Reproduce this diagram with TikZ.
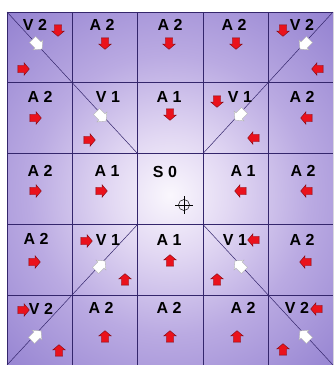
\documentclass[tikz,border=0pt]{standalone}
\usepackage{fontspec}
\setmainfont{Liberation Sans}
\usetikzlibrary{shapes.arrows}

\definecolor{gridline}{RGB}{52,38,108}
\definecolor{arrowred}{RGB}{234,18,28}
\definecolor{arrowedge}{RGB}{130,10,20}
\definecolor{glow0}{RGB}{250,247,253}
\definecolor{glow1}{RGB}{226,216,243}
\definecolor{glow2}{RGB}{186,170,226}
\definecolor{glow3}{RGB}{146,128,208}
\definecolor{glow4}{RGB}{124,106,196}
\definecolor{glow5}{RGB}{106,88,182}
\pgfdeclareradialshading{glow}{\pgfpoint{0bp}{0bp}}{%
  color(0bp)=(glow0); color(6bp)=(glow1); color(14bp)=(glow2);
  color(25bp)=(glow3); color(35bp)=(glow4); color(50bp)=(glow5)}

\begin{document}
\begin{tikzpicture}[x=1pt, y=-1pt,
    lbl/.style={font=\fontsize{16}{18}\selectfont\bfseries, inner sep=0pt},
    redarrow/.style={single arrow, draw=arrowedge, fill=arrowred, line width=0.4pt,
      inner sep=3.5pt, minimum width=12.5pt, minimum height=11.5pt,
      single arrow head extend=2.5pt, single arrow tip angle=100},
    whitearrow/.style={redarrow, draw=gray!60, fill=white, inner sep=4pt,
      minimum width=14pt, minimum height=13.5pt}]
    \useasboundingbox (0,0) rectangle (333,365);

    % Background
    \begin{scope}
        \clip (7,12) rectangle (333,365);
        \fill[shading=glow] (-80,-55) rectangle (420,445);
    \end{scope}

    % Grid
    \foreach \i in {1,...,4} {
        \draw[gridline, line width=0.7pt] (7+65.3*\i,12) -- (7+65.3*\i,365);
        \draw[gridline, line width=0.7pt] (7,12+70.8*\i) -- (333,12+70.8*\i);
    }
    \draw[gridline, line width=0.5pt] (333,12) -- (7,12) -- (7,365);

    % Diagonals
    \coordinate (nw) at (7,12);
    \coordinate (ne) at (333,12);
    \coordinate (sw) at (7,365);
    \coordinate (se) at (333,365);
    \coordinate (cnw) at (137.6,153.6);
    \coordinate (cne) at (202.9,153.6);
    \coordinate (csw) at (137.6,224.4);
    \coordinate (cse) at (202.9,224.4);
    \draw[gridline, line width=0.5pt] (nw) -- (cnw);
    \draw[gridline, line width=0.5pt] (ne) -- (cne);
    \draw[gridline, line width=0.5pt] (sw) -- (csw);
    \draw[gridline, line width=0.5pt] (se) -- (cse);

    % Labels
    \node[lbl] (v2nw) at (35,25) {V 2};
    \node[lbl] (a2n1) at (102,25) {A 2};
    \node[lbl] (a2n2) at (170,25) {A 2};
    \node[lbl] (a2n3) at (234,25) {A 2};
    \node[lbl] (v2ne) at (302,25) {V 2};
    \node[lbl] (a2w1) at (40,97) {A 2};
    \node[lbl] (v1nw) at (108,97) {V 1};
    \node[lbl] (a1n) at (169,97) {A 1};
    \node[lbl] (v1ne) at (240,97) {V 1};
    \node[lbl] (a2e1) at (302,97) {A 2};
    \node[lbl] (a2w2) at (40,171) {A 2};
    \node[lbl] (a1w) at (107,171) {A 1};
    \node[lbl] (s0) at (165,172) {S 0};
    \node[lbl] (a1e) at (243,171) {A 1};
    \node[lbl] (a2e2) at (303,171) {A 2};
    \node[lbl] (a2w3) at (36,239) {A 2};
    \node[lbl] (v1sw) at (108,240) {V 1};
    \node[lbl] (a1s) at (169,240) {A 1};
    \node[lbl] (v1se) at (235,240) {V 1};
    \node[lbl] (a2e3) at (302,240) {A 2};
    \node[lbl] (v2sw) at (41,309) {V 2};
    \node[lbl] (a2s1) at (101,308) {A 2};
    \node[lbl] (a2s2) at (169,308) {A 2};
    \node[lbl] (a2s3) at (243,308) {A 2};
    \node[lbl] (v2se) at (297,308) {V 2};

    % Red arrows
    \node[redarrow, rotate=-90] (rnw1) at (58,29) {};
    \node[redarrow] (rnw2) at (22,69) {};
    \node[redarrow, rotate=-90] (rn1) at (105,42) {};
    \node[redarrow, rotate=-90] (rn2) at (169,42) {};
    \node[redarrow, rotate=-90] (rn3) at (236,42) {};
    \node[redarrow, rotate=-90] (rne1) at (283,29) {};
    \node[redarrow, rotate=180] (rne2) at (319,69) {};
    \node[redarrow] (rw1) at (34,118) {};
    \node[redarrow] (rv1nw) at (88,140) {};
    \node[redarrow, rotate=-90] (ra1n) at (170,113) {};
    \node[redarrow, rotate=-90] (rv1ne) at (217,100) {};
    \node[redarrow, rotate=180] (rv1ne2) at (255,138) {};
    \node[redarrow, rotate=180] (re1) at (308,118) {};
    \node[redarrow] (rw2) at (34,191) {};
    \node[redarrow] (ra1w) at (100,191) {};
    \node[redarrow, rotate=180] (ra1e) at (242,191) {};
    \node[redarrow, rotate=180] (re2) at (308,191) {};
    \node[redarrow] (rw3) at (33,262) {};
    \node[redarrow] (rv1sw) at (85,241) {};
    \node[redarrow, rotate=90] (rv1sw2) at (125,281) {};
    \node[redarrow, rotate=90] (ra1s) at (170,262) {};
    \node[redarrow, rotate=180] (rv1se) at (255,240) {};
    \node[redarrow, rotate=90] (rv1se2) at (217,281) {};
    \node[redarrow, rotate=180] (re3) at (307,262) {};
    \node[redarrow] (rsw1) at (22,310) {};
    \node[redarrow, rotate=90] (rsw2) at (59,352) {};
    \node[redarrow, rotate=90] (rs1) at (105,338) {};
    \node[redarrow, rotate=90] (rs2) at (170,338) {};
    \node[redarrow, rotate=90] (rs3) at (237,338) {};
    \node[redarrow, rotate=180] (rse1) at (318,309) {};
    \node[redarrow, rotate=90] (rse2) at (283,351) {};

    % White arrows
    \node[whitearrow, rotate=-45] (wnw) at (36,43) {};
    \node[whitearrow, rotate=-135] (wne) at (306,43) {};
    \node[whitearrow, rotate=-45] (wv1nw) at (100,115) {};
    \node[whitearrow, rotate=-135] (wv1ne) at (241,114) {};
    \node[whitearrow, rotate=45] (wv1sw) at (99,267) {};
    \node[whitearrow, rotate=135] (wv1se) at (241,267) {};
    \node[whitearrow, rotate=45] (wsw) at (35,337) {};
    \node[whitearrow, rotate=135] (wse) at (306,337) {};

    % Target
    \node[circle, draw, line width=0.5pt, minimum size=11pt, inner sep=0pt] (target) at (184,205) {};
    \draw[line width=0.5pt] ([yshift=3pt]target.north) -- ([yshift=-3pt]target.south);
    \draw[line width=0.5pt] ([xshift=-3pt]target.west) -- ([xshift=3pt]target.east);
\end{tikzpicture}
\end{document}
